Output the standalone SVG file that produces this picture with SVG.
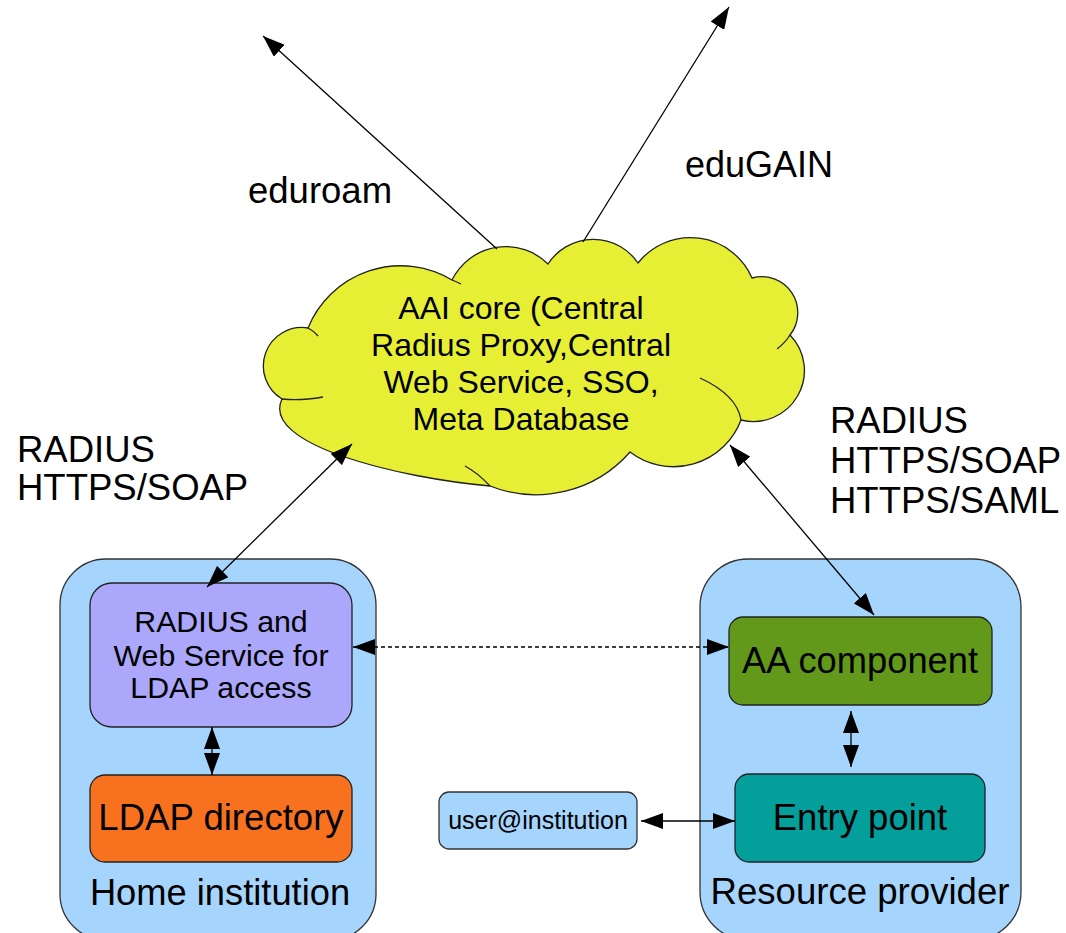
<svg xmlns="http://www.w3.org/2000/svg" width="1066" height="933" viewBox="0 0 1066 933">
<style>
text{font-family:"Liberation Sans",Arial,sans-serif;fill:#000}
.c{text-anchor:middle}
.box{stroke:#222;stroke-width:1.3}
.cont{fill:#a5d5fd;stroke:#333;stroke-width:1.3}
.ln{stroke:#000;stroke-width:1.3;fill:none}
.curl{fill:none;stroke:#222;stroke-width:1.3}
</style>
<defs>
<marker id="ah" viewBox="0 0 22 16" refX="22" refY="8" markerWidth="22" markerHeight="16" markerUnits="userSpaceOnUse" orient="auto-start-reverse">
<path d="M0,0 L22,8 L0,16 z" fill="#000"/>
</marker>
<marker id="ahs" viewBox="0 0 22 16" refX="22" refY="8" markerWidth="22" markerHeight="16" markerUnits="userSpaceOnUse" orient="auto-start-reverse">
<path d="M0,0 L22,8 L0,16 z" fill="#000"/>
</marker>
</defs>
<rect width="1066" height="933" fill="#fff"/>

<g id="labels">
<text x="248" y="203" font-size="36.5">eduroam</text>
<text x="685" y="177" font-size="36">eduGAIN</text>
<text x="17" y="462" font-size="36.5">RADIUS</text>
<text x="17" y="500" font-size="36.5">HTTPS/SOAP</text>
<text x="830" y="433" font-size="36.5">RADIUS</text>
<text x="830" y="473" font-size="36.5">HTTPS/SOAP</text>
<text x="830" y="513" font-size="36.5">HTTPS/SAML</text>
</g>

<g id="aai-core">
<path class="box" fill="#e6ef34" d="M308,328 A100,100 0 0 1 452,280 A60,60 0 0 1 548,264 A54,54 0 0 1 638,263 A67,67 0 0 1 752,278 A36,36 0 0 1 790,335 A51,51 0 0 1 741,420 A72,72 0 0 1 630,452 A125,125 0 0 1 490,486 C400,478 260,445 282,399 A38.5,38.5 0 0 1 308,328 Z"/>
<path class="curl" d="M308,328 Q314,331 318,336"/>
<path class="curl" d="M282,399 Q300,401 323,397"/>
<path class="curl" d="M452,280 Q457,282 461,284"/>
<path class="curl" d="M790,335 Q785,343 777,349"/>
<path class="curl" d="M700,378 Q737,395 741,420"/>
<path class="curl" d="M490,486 Q478,473 465,466"/>
<text class="c" x="521" y="319" font-size="32">AAI core (Central</text>
<text class="c" x="521" y="356" font-size="32">Radius Proxy,Central</text>
<text class="c" x="521" y="393" font-size="32">Web Service, SSO,</text>
<text class="c" x="521" y="430" font-size="32">Meta Database</text>
</g>

<g id="home-institution">
<rect class="cont" x="60" y="559" width="316" height="381" rx="46"/>
<text class="c" x="220" y="905" font-size="36.3">Home institution</text>
</g>
<g id="radius-ws">
<rect class="box" fill="#aba7fa" x="90" y="583" width="262" height="144" rx="22"/>
<text class="c" x="221" y="632" font-size="30.3">RADIUS and</text>
<text class="c" x="221" y="666" font-size="30.3">Web Service for</text>
<text class="c" x="221" y="698" font-size="30.3">LDAP access</text>
</g>
<g id="ldap-directory">
<rect class="box" fill="#f7711f" x="90" y="775" width="262" height="87" rx="15"/>
<text class="c" x="221" y="830" font-size="36.6">LDAP directory</text>
</g>

<g id="resource-provider">
<rect class="cont" x="700" y="559" width="321" height="381" rx="48"/>
<text class="c" x="860" y="904" font-size="36.6">Resource provider</text>
</g>
<g id="aa-component">
<rect class="box" fill="#62991a" x="729" y="617" width="263" height="88" rx="14"/>
<text class="c" x="860" y="673" font-size="36.3">AA component</text>
</g>
<g id="entry-point">
<rect class="box" fill="#049e9b" x="735" y="774" width="250" height="88" rx="14"/>
<text class="c" x="860" y="830" font-size="36.5">Entry point</text>
</g>
<g id="user">
<rect class="cont" x="439" y="792" width="198" height="57" rx="10"/>
<text class="c" x="538" y="829" font-size="25">user@institution</text>
</g>

<g id="connectors">
<line class="ln" x1="497" y1="249" x2="263" y2="36" marker-end="url(#ah)"/>
<line class="ln" x1="583" y1="242" x2="729" y2="7" marker-end="url(#ah)"/>
<line class="ln" x1="352" y1="444" x2="207" y2="587" marker-start="url(#ah)" marker-end="url(#ah)"/>
<line class="ln" x1="730" y1="445" x2="874" y2="615" marker-start="url(#ah)" marker-end="url(#ah)"/>
<line class="ln" x1="353" y1="647" x2="729" y2="647" stroke-dasharray="4,3" marker-start="url(#ah)" marker-end="url(#ah)"/>
<line class="ln" x1="212" y1="727" x2="212" y2="775" marker-start="url(#ahs)" marker-end="url(#ahs)"/>
<line class="ln" x1="851" y1="711" x2="851" y2="767" marker-start="url(#ahs)" marker-end="url(#ahs)"/>
<line class="ln" x1="641" y1="821" x2="735" y2="821" marker-start="url(#ah)" marker-end="url(#ah)"/>
</g>
</svg>
